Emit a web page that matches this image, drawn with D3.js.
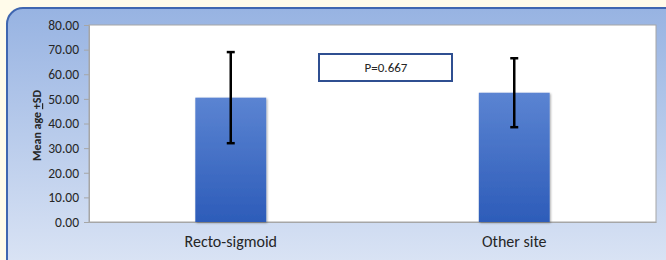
<!DOCTYPE html>
<html>
<head>
<meta charset="utf-8">
<script src="https://cdn.jsdelivr.net/npm/d3@7"></script>
<style>
  body { margin: 0; background: #fffbea; }
  svg { display: block; }
  text { font-family: Carlito, Calibri, Lato, sans-serif; }
</style>
</head>
<body>
<div id="chart"></div>
<script>
var categories = ['Recto-sigmoid', 'Other site'];
var means      = [50.5, 52.5];
var sds        = [18.5, 14.0];
var yTicks     = [0, 10, 20, 30, 40, 50, 60, 70, 80];
var pLabel     = 'P=0.667';

var W = 666, H = 260;
var plot = { left: 89, right: 656, top: 25, bottom: 222 };

var svg = d3.select('#chart').append('svg')
  .attr('width', W)
  .attr('height', H);

var defs = svg.append('defs');

var bg = defs.append('linearGradient').attr('id', 'bg')
  .attr('x1', 0).attr('y1', 0).attr('x2', 0).attr('y2', 1);
bg.append('stop').attr('offset', '0%').attr('stop-color', '#97b3e2');
bg.append('stop').attr('offset', '100%').attr('stop-color', '#e0e8f6');

var barGrad = defs.append('linearGradient').attr('id', 'bar')
  .attr('x1', 0).attr('y1', 0).attr('x2', 0).attr('y2', 1);
barGrad.append('stop').attr('offset', '0%').attr('stop-color', '#5b84d2');
barGrad.append('stop').attr('offset', '100%').attr('stop-color', '#2d5cb9');

var shadow = defs.append('filter').attr('id', 'shadow')
  .attr('x', '-20%').attr('y', '-20%').attr('width', '140%').attr('height', '140%');
shadow.append('feDropShadow').attr('dx', 1).attr('dy', 1)
  .attr('stdDeviation', 1).attr('flood-color', '#000').attr('flood-opacity', 0.35);

/* outer frame, only the top-left corner is visible as rounded */
svg.append('rect')
  .attr('x', 7).attr('y', 8)
  .attr('width', W + 20).attr('height', H + 20)
  .attr('rx', 16)
  .attr('fill', 'url(#bg)')
  .attr('stroke', '#3f66b0')
  .attr('stroke-width', 2);

/* plot area */
svg.append('rect')
  .attr('x', plot.left).attr('y', plot.top)
  .attr('width', plot.right - plot.left).attr('height', plot.bottom - plot.top)
  .attr('fill', '#fff')
  .attr('stroke', '#a6a6a6')
  .attr('stroke-width', 1);

var x = d3.scaleBand()
  .domain(categories)
  .range([plot.left, plot.right]);

var y = d3.scaleLinear()
  .domain([0, 80])
  .range([plot.bottom, plot.top]);

var yAxis = svg.append('g')
  .attr('transform', 'translate(' + plot.left + ',0)')
  .call(d3.axisLeft(y).tickValues(yTicks).tickFormat(d3.format('.2f')).tickSize(5).tickPadding(5));
yAxis.select('.domain').attr('stroke', '#a6a6a6');
yAxis.selectAll('.tick line').attr('stroke', '#a6a6a6');
yAxis.selectAll('.tick text')
  .attr('fill', '#262626')
  .style('font-family', 'Carlito, Calibri, Lato, sans-serif')
  .style('font-size', '13.5px');

var xAxis = svg.append('g')
  .attr('transform', 'translate(0,' + plot.bottom + ')')
  .call(d3.axisBottom(x).tickSize(0).tickPadding(14));
xAxis.select('.domain').attr('stroke', '#a6a6a6');
xAxis.selectAll('.tick text')
  .attr('fill', '#262626')
  .style('font-family', 'Carlito, Calibri, Lato, sans-serif')
  .style('font-size', '16px');

var barW = x.bandwidth() * 0.25;
var data = categories.map(function (c, i) {
  return { cat: c, mean: means[i], sd: sds[i] };
});

svg.append('g').selectAll('rect')
  .data(data)
  .join('rect')
  .attr('x', function (d) { return x(d.cat) + x.bandwidth() / 2 - barW / 2; })
  .attr('y', function (d) { return y(d.mean); })
  .attr('width', barW)
  .attr('height', function (d) { return y(0) - y(d.mean); })
  .attr('fill', 'url(#bar)')
  .attr('filter', 'url(#shadow)');

/* error bars */
var err = svg.append('g').selectAll('g')
  .data(data)
  .join('g')
  .attr('stroke', '#000')
  .attr('stroke-width', 2.5);
err.append('line')
  .attr('x1', function (d) { return x(d.cat) + x.bandwidth() / 2; })
  .attr('x2', function (d) { return x(d.cat) + x.bandwidth() / 2; })
  .attr('y1', function (d) { return y(d.mean + d.sd); })
  .attr('y2', function (d) { return y(d.mean - d.sd); });
[1, -1].forEach(function (s) {
  err.append('line')
    .attr('x1', function (d) { return x(d.cat) + x.bandwidth() / 2 - 4; })
    .attr('x2', function (d) { return x(d.cat) + x.bandwidth() / 2 + 4; })
    .attr('y1', function (d) { return y(d.mean + s * d.sd); })
    .attr('y2', function (d) { return y(d.mean + s * d.sd); });
});

/* y axis title, "+" underlined as in the original */
var yt = svg.append('text')
  .attr('transform', 'translate(41,' + ((plot.top + plot.bottom) / 2 + 2) + ') rotate(-90)')
  .attr('text-anchor', 'middle')
  .attr('fill', '#262626')
  .style('font-size', '12px')
  .style('font-weight', 'bold');
yt.append('tspan').text('Mean age ');
yt.append('tspan').style('text-decoration', 'underline').text('+');
yt.append('tspan').text('SD');

/* p-value box */
var pb = svg.append('g');
pb.append('rect')
  .attr('x', 319).attr('y', 54)
  .attr('width', 133).attr('height', 27)
  .attr('fill', '#fff')
  .attr('stroke', '#2f4f91')
  .attr('stroke-width', 2);
pb.append('text')
  .attr('x', 386).attr('y', 72)
  .attr('text-anchor', 'middle')
  .attr('fill', '#262626')
  .style('font-size', '13px')
  .text(pLabel);
</script>
</body>
</html>
